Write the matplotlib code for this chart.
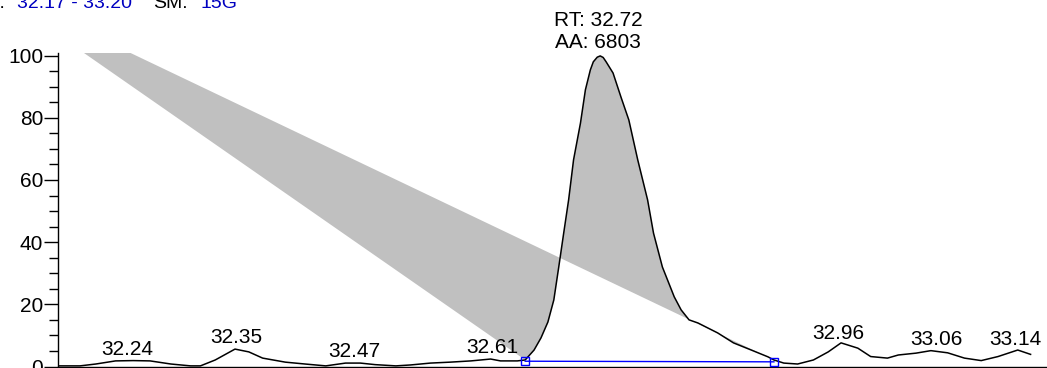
import matplotlib.pyplot as plt
import numpy as np
from matplotlib.ticker import MultipleLocator

plt.rcParams['font.family'] = ['Liberation Sans', 'DejaVu Sans']

# --- data ---
rt = [32.170, 32.192, 32.208, 32.228, 32.246, 32.263, 32.284, 32.304, 32.314,
      32.329, 32.349, 32.363, 32.377, 32.400, 32.420, 32.441, 32.461, 32.476,
      32.491, 32.512, 32.527, 32.547, 32.567, 32.588, 32.608, 32.618, 32.635,
      32.643, 32.652, 32.659, 32.666, 32.672, 32.677, 32.682, 32.687, 32.692,
      32.699, 32.704, 32.709, 32.712, 32.716, 32.719, 32.722, 32.725, 32.732,
      32.740, 32.748, 32.757, 32.767, 32.773, 32.782, 32.794, 32.801, 32.809,
      32.818, 32.828, 32.838, 32.854, 32.872, 32.889, 32.895, 32.905, 32.919,
      32.935, 32.950, 32.963, 32.980, 32.993, 33.010, 33.021, 33.039, 33.054,
      33.071, 33.088, 33.105, 33.122, 33.142, 33.155]
intensity = [0.2, 0.2, 0.8, 1.8, 1.9, 1.8, 0.8, 0.2, 0.2,
             2.1, 5.6, 4.7, 2.7, 1.4, 0.8, 0.2, 1.1, 1.1,
             0.6, 0.2, 0.5, 1.1, 1.4, 1.8, 2.4, 1.8, 1.8,
             2.1, 5.3, 9.2, 14.3, 21.4, 32.0, 42.9, 53.6, 66.5,
             78.3, 89.0, 95.4, 98.0, 99.5, 99.9, 99.4, 98.0, 94.4,
             86.7, 79.3, 66.5, 53.6, 42.9, 32.0, 22.4, 18.2, 15.0,
             14.0, 12.4, 10.8, 7.6, 5.3, 3.1, 2.1, 1.1, 0.8,
             2.1, 4.7, 7.6, 5.9, 3.2, 2.7, 3.7, 4.3, 5.1,
             4.4, 2.7, 1.9, 3.2, 5.3, 3.9]

peak_labels = [32.24, 32.35, 32.47, 32.61, 32.96, 33.06, 33.14]

main_rt = 32.72
main_area = 6803

# integration window (start / end of the baseline)
base_rt = [32.643, 32.895]
base_val = [1.7, 1.5]

# stray vertex of the shaded integration polygon
fill_anchor_rt = 32.093
fill_anchor_val = 123.6

rt_range = (32.17, 33.20)
smoothing = '15G'

# --- plot ---
fig = plt.figure(figsize=(10.47, 3.68), dpi=100)
W, H = 1047, 368
ax = fig.add_axes([58.3 / W, 1.5 / H, (1075 - 58.3) / W, (366.5 - 52.5) / H])

t = np.array(rt)
y = np.array(intensity)

# shaded area (polygon closes back through the stray vertex)
sel = (t >= base_rt[0] - 1e-6) & (t <= base_rt[1] + 1e-6)
poly_x = np.concatenate([[fill_anchor_rt], t[sel], [fill_anchor_rt]])
poly_y = np.concatenate([[fill_anchor_val], y[sel], [fill_anchor_val]])
ax.fill(poly_x, poly_y, color='#c0c0c0', lw=0, zorder=1)

ax.plot(t, y, color='black', lw=1.1, zorder=3)

# baseline with end markers
ax.plot(base_rt, base_val, color='#0000ff', lw=1.0, zorder=4)
ax.plot(base_rt, base_val, ls='none', marker='s', ms=6.2, mfc='none',
        mec='#0000ff', mew=1.0, zorder=5, clip_on=False)

fs = 15
for p in peak_labels:
    h = np.interp(p, t, y)
    ax.annotate(f'{p:.2f}', (p, h), xytext=(0, 6), textcoords='offset pixels',
                ha='center', va='baseline', fontsize=fs)

h = np.interp(main_rt, t, y)
ax.annotate(f'AA: {main_area}', (main_rt, h), xytext=(-3, 8), textcoords='offset pixels',
            ha='center', va='baseline', fontsize=fs, annotation_clip=False)
ax.annotate(f'RT: {main_rt:.2f}', (main_rt, h), xytext=(-3, 30), textcoords='offset pixels',
            ha='center', va='baseline', fontsize=fs, annotation_clip=False)

ax.set_xlim(*rt_range)
ax.set_ylim(0, 101)
ax.yaxis.set_major_locator(MultipleLocator(20))
ax.yaxis.set_minor_locator(MultipleLocator(5))
ax.tick_params(axis='y', which='major', length=10, width=1, pad=0.8, labelsize=fs)
ax.tick_params(axis='y', which='minor', length=6.5, width=1)
ax.set_xticks([])
for s in ['top', 'right']:
    ax.spines[s].set_visible(False)
for s in ['left', 'bottom']:
    ax.spines[s].set_linewidth(1.0)

# header, cut off by the top edge
by = 1 - 7.5 / H
hfs = 14
fig.text(5 / W, by, 'RT:', ha='right', va='baseline', fontsize=hfs, color='black')
fig.text(17 / W, by, f'{rt_range[0]:.2f} - {rt_range[1]:.2f}', ha='left', va='baseline',
         fontsize=hfs, color='#0000c0')
fig.text(153 / W, by, 'SM:', ha='left', va='baseline', fontsize=hfs, color='black')
fig.text(200 / W, by, smoothing, ha='left', va='baseline', fontsize=hfs, color='#0000c0')

fig.savefig('out.png', dpi=100)
